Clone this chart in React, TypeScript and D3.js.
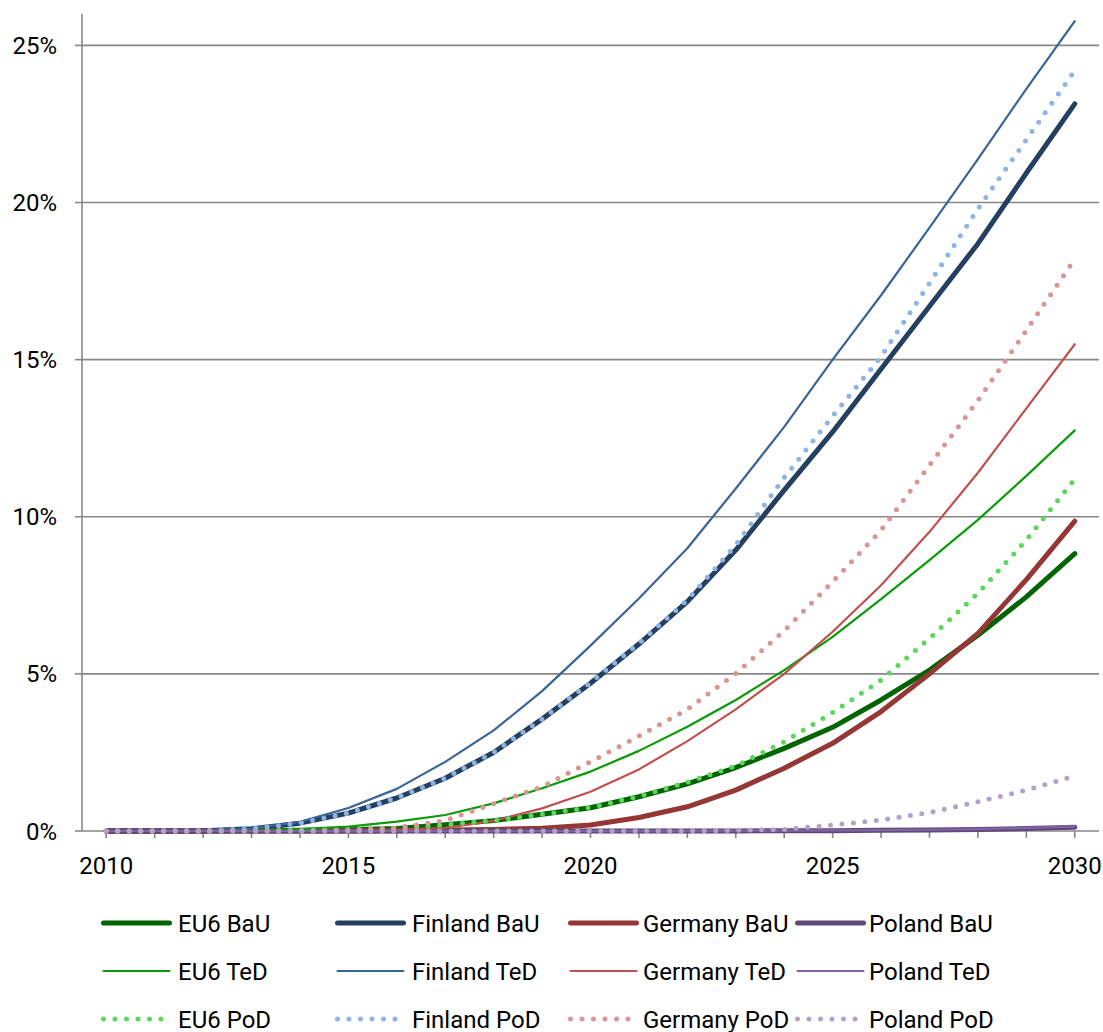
import React from "react";
import * as d3 from "d3";

const years = d3.range(2010, 2031);

const eu6BaU = [0, 0, 0, 0.01, 0.02, 0.04, 0.08, 0.2, 0.33, 0.53, 0.74, 1.09, 1.5, 2.02, 2.63, 3.3, 4.17, 5.12, 6.23, 7.45, 8.83];
const finlandBaU = [0, 0, 0.01, 0.07, 0.25, 0.57, 1.05, 1.68, 2.5, 3.56, 4.7, 5.95, 7.3, 8.94, 10.85, 12.7, 14.7, 16.7, 18.69, 20.94, 23.14];
const germanyBaU = [0, 0, 0, 0, 0, 0, 0.01, 0.03, 0.05, 0.09, 0.19, 0.43, 0.77, 1.3, 2.0, 2.79, 3.8, 5.0, 6.29, 8.0, 9.86];
const polandBaU = [0, 0, 0, 0, 0, 0, 0, 0, 0, 0, 0, 0, 0, 0, 0.01, 0.01, 0.02, 0.03, 0.05, 0.08, 0.12];

const eu6TeD = [0, 0, 0, 0.02, 0.06, 0.14, 0.3, 0.51, 0.88, 1.36, 1.89, 2.55, 3.32, 4.17, 5.12, 6.18, 7.38, 8.62, 9.9, 11.3, 12.75];
const finlandTeD = [0, 0, 0.01, 0.08, 0.29, 0.73, 1.34, 2.2, 3.2, 4.45, 5.9, 7.4, 9.0, 10.9, 12.86, 15.0, 17.05, 19.2, 21.38, 23.62, 25.77];
const germanyTeD = [0, 0, 0, 0, 0, 0.01, 0.03, 0.1, 0.32, 0.72, 1.25, 1.96, 2.86, 3.87, 5.0, 6.34, 7.82, 9.52, 11.4, 13.45, 15.49];
const polandTeD = [0, 0, 0, 0, 0, 0, 0, 0, 0, 0, 0, 0, 0, 0.01, 0.01, 0.02, 0.03, 0.04, 0.06, 0.1, 0.15];

const eu6PoD = [0, 0, 0, 0.01, 0.02, 0.04, 0.08, 0.2, 0.33, 0.53, 0.75, 1.1, 1.55, 2.07, 2.84, 3.77, 4.8, 6.13, 7.56, 9.26, 11.2];
const finlandPoD = [0, 0, 0.01, 0.07, 0.25, 0.57, 1.05, 1.68, 2.5, 3.56, 4.72, 5.97, 7.35, 9.1, 11.25, 13.2, 15.1, 17.43, 19.8, 22.0, 24.2];
const germanyPoD = [0, 0, 0, 0, 0, 0.03, 0.1, 0.33, 0.87, 1.41, 2.2, 3.02, 3.87, 5.01, 6.37, 7.93, 9.57, 11.64, 13.7, 15.93, 18.2];
const polandPoD = [0, 0, 0, 0, 0, 0, 0, 0, 0, 0, 0, 0, 0, 0.02, 0.05, 0.19, 0.35, 0.59, 0.93, 1.3, 1.75];

const yTicks = [0, 5, 10, 15, 20, 25];
const xTickLabels = [2010, 2015, 2020, 2025, 2030];

type Style = "bau" | "ted" | "pod";
const seriesList: { name: string; values: number[]; color: string; style: Style }[] = [
  { name: "EU6 BaU", values: eu6BaU, color: "#006400", style: "bau" },
  { name: "Finland BaU", values: finlandBaU, color: "#243f60", style: "bau" },
  { name: "Germany BaU", values: germanyBaU, color: "#953735", style: "bau" },
  { name: "Poland BaU", values: polandBaU, color: "#5f497a", style: "bau" },
  { name: "EU6 TeD", values: eu6TeD, color: "#0a9a0a", style: "ted" },
  { name: "Finland TeD", values: finlandTeD, color: "#3a6495", style: "ted" },
  { name: "Germany TeD", values: germanyTeD, color: "#c0504d", style: "ted" },
  { name: "Poland TeD", values: polandTeD, color: "#8064a2", style: "ted" },
  { name: "EU6 PoD", values: eu6PoD, color: "#5cd65c", style: "pod" },
  { name: "Finland PoD", values: finlandPoD, color: "#8eb4e3", style: "pod" },
  { name: "Germany PoD", values: germanyPoD, color: "#d99694", style: "pod" },
  { name: "Poland PoD", values: polandPoD, color: "#b3a2c7", style: "pod" },
];

const W = 1103;
const H = 1032;
const left = 82;
const right = 1099;
const top = 14;
const bottom = 831;
const font = "Roboto, 'Open Sans', Arial, sans-serif";
const axisColor = "#878787";

function strokeProps(style: Style, color: string) {
  if (style === "bau") return { stroke: color, strokeWidth: 5, strokeLinecap: "round" as const, strokeLinejoin: "round" as const };
  if (style === "ted") return { stroke: color, strokeWidth: 2.2, strokeLinecap: "round" as const, strokeLinejoin: "round" as const };
  return { stroke: color, strokeWidth: 5, strokeLinecap: "round" as const, strokeLinejoin: "round" as const, strokeDasharray: "0 11.5" };
}

export default function App() {
  const x = d3.scaleLinear().domain([2009.5, 2030.5]).range([left, right]);
  const y = d3.scaleLinear().domain([0, 26]).range([bottom, top]);
  const line = d3
    .line<number>()
    .x((_, i) => x(years[i]))
    .y((d) => y(d));

  const legendCols = [101, 335, 568, 795];
  const legendText = [178, 412, 643, 869];
  const legendRows = [923, 971, 1019];

  return (
    <div style={{ position: "absolute", left: 0, top: 0 }}>
      <svg width={W} height={H} style={{ display: "block", background: "#fff" }}>
        <rect x={0} y={0} width={W} height={H} fill="#fff" />
        {yTicks.map((t) => (
          <g key={"g" + t}>
            {t > 0 && <line x1={left} x2={right} y1={y(t)} y2={y(t)} stroke={axisColor} strokeWidth={1.6} />}
            <line x1={left - 7} x2={left} y1={y(t)} y2={y(t)} stroke={axisColor} strokeWidth={1.6} />
            <text x={57} y={y(t) + 8.5} textAnchor="end" fontFamily={font} fontSize={24} fill="#000">
              {t + "%"}
            </text>
          </g>
        ))}
        <line x1={left} x2={left} y1={top} y2={bottom} stroke={axisColor} strokeWidth={1.6} />
        <line x1={left} x2={right} y1={bottom} y2={bottom} stroke={axisColor} strokeWidth={1.6} />
        {years.map((yr) => (
          <line key={"t" + yr} x1={x(yr)} x2={x(yr)} y1={bottom} y2={bottom + 7} stroke={axisColor} strokeWidth={1.6} />
        ))}
        {xTickLabels.map((yr) => (
          <text key={"xl" + yr} x={x(yr)} y={874} textAnchor="middle" fontFamily={font} fontSize={24} fill="#000">
            {yr}
          </text>
        ))}
        {seriesList.map((s) => (
          <path key={s.name} d={line(s.values) || ""} fill="none" {...strokeProps(s.style, s.color)} />
        ))}
        {seriesList.map((s, i) => {
          const col = i % 4;
          const row = Math.floor(i / 4);
          const x0 = legendCols[col];
          const ly = legendRows[row];
          const x1 = x0 + 2.5;
          const x2 = s.style === "pod" ? x0 + 62 : x0 + 68.5;
          return (
            <g key={"lg" + s.name}>
              <line x1={x1} x2={x2} y1={ly} y2={ly} {...strokeProps(s.style, s.color)} />
              <text x={legendText[col]} y={ly + 8.5} fontFamily={font} fontSize={24} fill="#000">
                {s.name}
              </text>
            </g>
          );
        })}
      </svg>
    </div>
  );
}
